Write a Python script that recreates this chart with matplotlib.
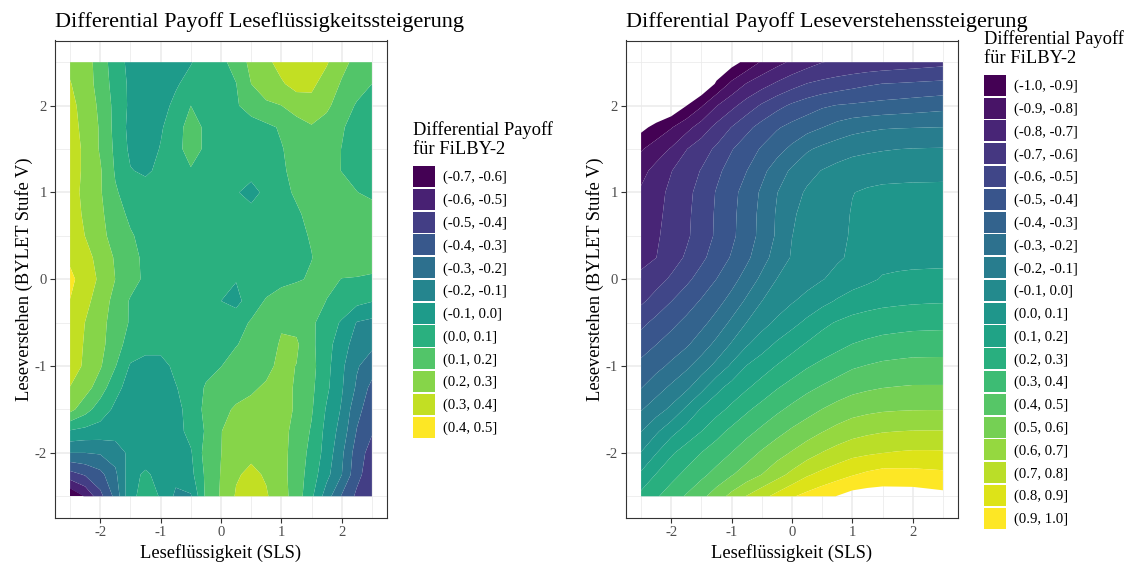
import numpy as np
import matplotlib
matplotlib.use("Agg")
import matplotlib.pyplot as plt
from matplotlib.patches import Patch

plt.rcParams["font.family"] = ["Liberation Serif", "DejaVu Serif"]
plt.rcParams["axes.unicode_minus"] = False

# ---------- Data ----------
# common grid (0.25 steps), rows from y = 2.5 down to y = -2.5
grid_x = [-2.5, -2.25, -2.0, -1.75, -1.5, -1.25, -1.0, -0.75, -0.5, -0.25, 0.0,
          0.25, 0.5, 0.75, 1.0, 1.25, 1.5, 1.75, 2.0, 2.25, 2.5]
grid_y = [2.5, 2.25, 2.0, 1.75, 1.5, 1.25, 1.0, 0.75, 0.5, 0.25, 0.0,
          -0.25, -0.5, -0.75, -1.0, -1.25, -1.5, -1.75, -2.0, -2.25, -2.5]

# left panel: Leseflüssigkeitssteigerung
fluency_payoff = [
    [0.28, 0.25, 0.15, 0.05, -0.03, -0.05, -0.06, -0.03, -0.005, 0.04, 0.08, 0.13, 0.23, 0.28, 0.33, 0.36, 0.36, 0.31, 0.23, 0.17, 0.15],
    [0.305, 0.25, 0.16, 0.06, -0.02, -0.05, -0.05, -0.01, 0.03, 0.06, 0.08, 0.098, 0.2, 0.26, 0.29, 0.33, 0.32, 0.26, 0.19, 0.14, 0.10],
    [0.33, 0.26, 0.18, 0.07, -0.02, -0.05, -0.03, 0.02, 0.10, 0.06, 0.07, 0.09, 0.14, 0.18, 0.199, 0.25, 0.27, 0.22, 0.15, 0.09, 0.06],
    [0.34, 0.27, 0.19, 0.07, -0.03, -0.05, -0.01, 0.05, 0.15, 0.08, 0.05, 0.05, 0.06, 0.08, 0.11, 0.15, 0.19, 0.16, 0.11, 0.06, 0.05],
    [0.35, 0.28, 0.19, 0.08, -0.02, -0.04, 0.005, 0.06, 0.15, 0.08, 0.05, 0.05, 0.05, 0.07, 0.095, 0.13, 0.15, 0.14, 0.098, 0.06, 0.04],
    [0.35, 0.28, 0.21, 0.09, 0.005, -0.015, 0.02, 0.05, 0.09, 0.06, 0.05, 0.05, 0.04, 0.07, 0.09, 0.12, 0.14, 0.13, 0.098, 0.07, 0.05],
    [0.35, 0.27, 0.21, 0.11, 0.06, 0.04, 0.04, 0.05, 0.05, 0.04, 0.03, 0.01, -0.04, 0.03, 0.08, 0.11, 0.14, 0.15, 0.13, 0.102, 0.08],
    [0.36, 0.28, 0.22, 0.14, 0.08, 0.05, 0.05, 0.05, 0.05, 0.05, 0.04, 0.03, 0.04, 0.05, 0.07, 0.09, 0.12, 0.15, 0.16, 0.15, 0.14],
    [0.37, 0.298, 0.23, 0.16, 0.11, 0.07, 0.05, 0.05, 0.05, 0.05, 0.04, 0.04, 0.05, 0.06, 0.07, 0.085, 0.105, 0.14, 0.16, 0.16, 0.15],
    [0.385, 0.34, 0.26, 0.19, 0.13, 0.08, 0.05, 0.05, 0.05, 0.05, 0.04, 0.04, 0.05, 0.06, 0.07, 0.08, 0.098, 0.13, 0.14, 0.14, 0.13],
    [0.42, 0.36, 0.28, 0.199, 0.14, 0.08, 0.05, 0.04, 0.04, 0.03, 0.02, 0.005, 0.04, 0.05, 0.07, 0.09, 0.11, 0.12, 0.098, 0.095, 0.09],
    [0.398, 0.33, 0.25, 0.17, 0.09, 0.06, 0.05, 0.05, 0.04, 0.03, 0.0, -0.03, 0.05, 0.11, 0.15, 0.16, 0.14, 0.098, 0.06, 0.03, 0.005],
    [0.38, 0.298, 0.23, 0.16, 0.09, 0.06, 0.05, 0.05, 0.04, 0.04, 0.05, 0.06, 0.11, 0.16, 0.19, 0.17, 0.12, 0.045, -0.01, -0.105, -0.125],
    [0.36, 0.29, 0.23, 0.14, 0.06, 0.03, 0.03, 0.04, 0.05, 0.06, 0.08, 0.095, 0.13, 0.16, 0.21, 0.215, 0.12, 0.04, -0.06, -0.14, -0.18],
    [0.33, 0.29, 0.21, 0.105, -0.01, -0.03, -0.03, 0.02, 0.05, 0.07, 0.098, 0.14, 0.16, 0.18, 0.22, 0.198, 0.13, 0.03, -0.08, -0.19, -0.25],
    [0.298, 0.24, 0.15, 0.03, -0.04, -0.06, -0.06, -0.005, 0.04, 0.11, 0.15, 0.17, 0.19, 0.21, 0.23, 0.19, 0.12, 0.02, -0.09, -0.215, -0.33],
    [0.23, 0.14, 0.05, -0.02, -0.05, -0.07, -0.07, -0.04, 0.05, 0.12, 0.18, 0.21, 0.22, 0.23, 0.23, 0.19, 0.11, -0.01, -0.11, -0.27, -0.355],
    [-0.01, -0.03, -0.04, -0.05, -0.06, -0.08, -0.07, -0.035, 0.03, 0.11, 0.198, 0.23, 0.25, 0.25, 0.23, 0.17, 0.09, -0.03, -0.14, -0.305, -0.39],
    [-0.2, -0.2, -0.19, -0.16, -0.07, -0.07, -0.07, -0.03, -0.01, 0.14, 0.198, 0.27, 0.28, 0.27, 0.23, 0.16, 0.07, -0.04, -0.18, -0.35, -0.44],
    [-0.44, -0.39, -0.33, -0.22, -0.04, 0.02, -0.04, -0.07, -0.03, 0.12, 0.205, 0.29, 0.32, 0.29, 0.23, 0.155, 0.05, -0.07, -0.198, -0.37, -0.46],
    [-0.69, -0.59, -0.43, -0.27, -0.02, 0.03, -0.005, -0.12, -0.11, 0.12, 0.21, 0.31, 0.34, 0.31, 0.24, 0.155, 0.02, -0.15, -0.31, -0.42, -0.48],
]
fluency_levels = [-0.7, -0.6, -0.5, -0.4, -0.3, -0.2, -0.1, 0.0, 0.1, 0.2, 0.3, 0.4, 0.5]

# right panel: Leseverstehenssteigerung (values < -1 or > 1 stay unfilled)
comprehension_payoff = [
    [-1.25, -1.21, -1.17, -1.135, -1.10, -1.08, -1.04, -0.97, -0.887, -0.831, -0.782, -0.741, -0.702, -0.691, -0.682, -0.673, -0.665, -0.656, -0.648, -0.639, -0.63],
    [-1.20, -1.175, -1.15, -1.125, -1.098, -0.986, -0.876, -0.793, -0.738, -0.685, -0.638, -0.596, -0.575, -0.554, -0.533, -0.513, -0.498, -0.493, -0.487, -0.481, -0.476],
    [-1.16, -1.125, -1.09, -1.002, -0.91, -0.804, -0.727, -0.654, -0.586, -0.53, -0.483, -0.449, -0.414, -0.395, -0.386, -0.377, -0.368, -0.36, -0.351, -0.342, -0.333],
    [-1.03, -0.967, -0.907, -0.835, -0.754, -0.671, -0.597, -0.526, -0.465, -0.411, -0.371, -0.336, -0.302, -0.265, -0.235, -0.22, -0.209, -0.205, -0.203, -0.201, -0.199],
    [-0.91, -0.851, -0.79, -0.703, -0.644, -0.582, -0.506, -0.447, -0.389, -0.335, -0.277, -0.213, -0.177, -0.15, -0.13, -0.118, -0.108, -0.101, -0.097, -0.095, -0.094],
    [-0.831, -0.767, -0.703, -0.649, -0.594, -0.523, -0.46, -0.401, -0.326, -0.252, -0.183, -0.131, -0.096, -0.07, -0.047, -0.034, -0.025, -0.022, -0.02, -0.019, -0.018],
    [-0.786, -0.732, -0.679, -0.627, -0.565, -0.493, -0.43, -0.361, -0.284, -0.203, -0.137, -0.087, -0.068, -0.035, -0.002, 0.01, 0.015, 0.016, 0.017, 0.017, 0.017],
    [-0.764, -0.72, -0.674, -0.62, -0.556, -0.487, -0.423, -0.352, -0.273, -0.19, -0.11, -0.076, -0.055, -0.025, 0.005, 0.025, 0.037, 0.039, 0.04, 0.04, 0.04],
    [-0.741, -0.71, -0.671, -0.616, -0.551, -0.485, -0.42, -0.348, -0.27, -0.186, -0.101, -0.073, -0.044, -0.02, 0.008, 0.04, 0.059, 0.061, 0.062, 0.062, 0.063],
    [-0.718, -0.701, -0.645, -0.587, -0.521, -0.456, -0.391, -0.32, -0.24, -0.157, -0.091, -0.064, -0.032, -0.01, 0.012, 0.045, 0.07, 0.072, 0.073, 0.074, 0.075],
    [-0.686, -0.637, -0.585, -0.522, -0.461, -0.399, -0.334, -0.26, -0.177, -0.098, -0.067, -0.036, -0.004, 0.024, 0.052, 0.081, 0.108, 0.116, 0.122, 0.124, 0.126],
    [-0.618, -0.562, -0.502, -0.447, -0.391, -0.334, -0.267, -0.183, -0.101, -0.055, -0.009, 0.031, 0.069, 0.11, 0.148, 0.164, 0.176, 0.182, 0.187, 0.19, 0.192],
    [-0.526, -0.472, -0.425, -0.376, -0.327, -0.263, -0.18, -0.098, -0.037, 0.02, 0.07, 0.122, 0.178, 0.208, 0.229, 0.242, 0.252, 0.26, 0.267, 0.27, 0.272],
    [-0.446, -0.401, -0.357, -0.314, -0.25, -0.173, -0.09, -0.01, 0.056, 0.116, 0.166, 0.21, 0.241, 0.272, 0.302, 0.32, 0.337, 0.345, 0.352, 0.353, 0.354],
    [-0.373, -0.33, -0.28, -0.22, -0.15, -0.071, 0.018, 0.104, 0.155, 0.205, 0.248, 0.291, 0.325, 0.356, 0.388, 0.405, 0.419, 0.426, 0.432, 0.433, 0.433],
    [-0.303, -0.242, -0.18, -0.12, -0.029, 0.072, 0.138, 0.19, 0.242, 0.294, 0.337, 0.378, 0.411, 0.443, 0.471, 0.487, 0.499, 0.505, 0.51, 0.51, 0.51],
    [-0.207, -0.145, -0.077, 0.02, 0.111, 0.167, 0.224, 0.285, 0.335, 0.381, 0.424, 0.463, 0.502, 0.535, 0.562, 0.577, 0.588, 0.593, 0.596, 0.597, 0.597],
    [-0.104, -0.017, 0.067, 0.138, 0.199, 0.266, 0.323, 0.371, 0.42, 0.469, 0.515, 0.555, 0.595, 0.63, 0.66, 0.68, 0.693, 0.699, 0.703, 0.704, 0.704],
    [0.005, 0.096, 0.186, 0.246, 0.302, 0.35, 0.402, 0.458, 0.513, 0.562, 0.609, 0.657, 0.704, 0.74, 0.771, 0.786, 0.799, 0.808, 0.814, 0.814, 0.813],
    [0.118, 0.205, 0.268, 0.325, 0.377, 0.433, 0.493, 0.547, 0.601, 0.663, 0.725, 0.788, 0.827, 0.86, 0.893, 0.92, 0.94, 0.938, 0.935, 0.928, 0.922],
    [0.23, 0.288, 0.349, 0.41, 0.474, 0.55, 0.63, 0.705, 0.769, 0.831, 0.89, 0.931, 0.968, 1.004, 1.04, 1.05, 1.05, 1.05, 1.05, 1.04, 1.03],
]
comprehension_levels = [-1.0, -0.9, -0.8, -0.7, -0.6, -0.5, -0.4, -0.3, -0.2, -0.1, 0.0,
                        0.1, 0.2, 0.3, 0.4, 0.5, 0.6, 0.7, 0.8, 0.9, 1.0]

axis_ticks = [-2, -1, 0, 1, 2]
grid_minor = [-2.5, -1.5, -0.5, 0.5, 1.5, 2.5]


def draw_panel(ax, z, levels, title):
    colors = plt.cm.viridis(np.linspace(0, 1, len(levels) - 1))
    ax.contourf(grid_x, grid_y, np.array(z), levels=levels, colors=colors, antialiased=True)

    ax.set_xlim(-2.75, 2.75)
    ax.set_ylim(-2.75, 2.75)
    ax.set_xticks(axis_ticks)
    ax.set_yticks(axis_ticks)
    ax.set_xticks(grid_minor, minor=True)
    ax.set_yticks(grid_minor, minor=True)
    ax.set_axisbelow(True)
    ax.grid(which="major", color="#EBEBEB", linewidth=1.1)
    ax.grid(which="minor", color="#EBEBEB", linewidth=0.55)
    ax.tick_params(which="minor", length=0)
    ax.tick_params(which="major", length=3.3, width=0.8, color="#333333",
                   labelcolor="#4D4D4D", labelsize=10.6, pad=2.7)
    for s in ax.spines.values():
        s.set_color("#333333")
        s.set_linewidth(0.8)

    ax.set_title(title, loc="left", fontsize=16, pad=9.5)
    ax.set_xlabel("Leseflüssigkeit (SLS)", fontsize=13.3, labelpad=3.3)
    ax.set_ylabel("Leseverstehen (BYLET Stufe V)", fontsize=13.3, labelpad=1.0)

    labels = [f"({a:.1f}, {b:.1f}]" for a, b in zip(levels[:-1], levels[1:])]
    handles = [Patch(facecolor=c, edgecolor="none", label=l) for c, l in zip(colors, labels)]
    leg = ax.legend(handles=handles, title="Differential Payoff\nfür FiLBY-2",
                    loc="center left", bbox_to_anchor=(1.078, 0.5), frameon=False,
                    fontsize=10.6, title_fontsize=13.3, handlelength=1.5, handleheight=1.82,
                    labelspacing=0.12, handletextpad=0.55, borderpad=0, borderaxespad=0,
                    alignment="left")
    # gap between the legend title and the first key
    leg._legend_box.sep = 5.5


fig = plt.figure(figsize=(11.3, 5.67), dpi=100)
ax1 = fig.add_axes([55 / 1130, 49 / 567, 332 / 1130, 477.5 / 567])
ax2 = fig.add_axes([626 / 1130, 49 / 567, 332 / 1130, 477.5 / 567])

draw_panel(ax1, fluency_payoff, fluency_levels,
           "Differential Payoff Leseflüssigkeitssteigerung")
draw_panel(ax2, comprehension_payoff, comprehension_levels,
           "Differential Payoff Leseverstehenssteigerung")

fig.savefig("out.png", dpi=100)
